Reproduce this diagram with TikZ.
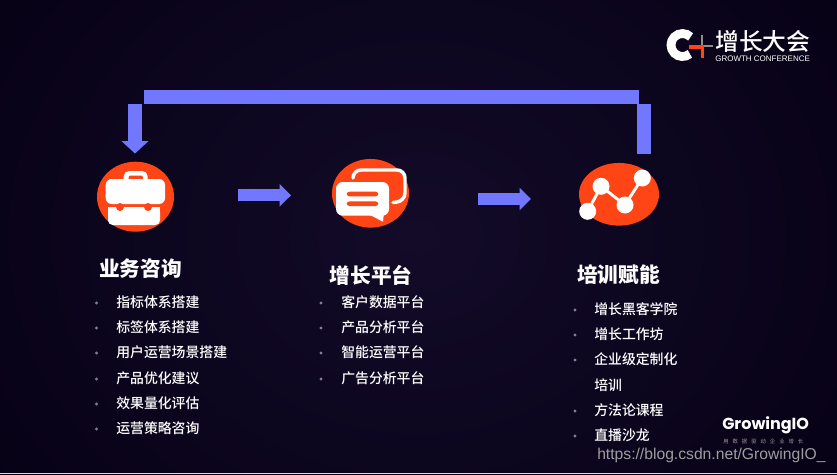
\documentclass[tikz,border=0pt]{standalone}
\usepackage{fontspec}
\setmainfont{Noto Sans CJK SC}
\newfontfamily\entryfont{Noto Sans CJK SC Medium}
\newfontfamily\latinsans{Liberation Sans}
\newfontfamily\logofont{Poppins}
\usetikzlibrary{arrows.meta,shapes.geometric}
\definecolor{flowblue}{HTML}{7177FF}
\definecolor{iconred}{HTML}{FF4516}
\definecolor{bgedge}{HTML}{070116}
\definecolor{bgmid}{HTML}{130B28}
\definecolor{dotgray}{HTML}{80809A}
\tikzset{
  icon/.style={ellipse,fill=iconred,inner sep=0pt,outer sep=0pt},
  flow/.style={draw=flowblue,line width=9pt},
  flowtip/.style={flow,-{Triangle[length=8.6pt,width=16.5pt]}},
  heading/.style={anchor=west,inner sep=0pt,text=white,font=\fontsize{15.5pt}{18pt}\selectfont\bfseries},
  entry/.style={anchor=west,inner sep=0pt,text=white,font=\entryfont\fontsize{10.4pt}{12pt}\selectfont},
  bullet/.style={circle,fill=dotgray,inner sep=0pt,minimum size=2.4pt},
}
\begin{document}
\begin{tikzpicture}[x=0.75pt,y=-0.75pt]
\useasboundingbox (0,0) rectangle (837,474);
\shade[inner color=bgmid,outer color=bgedge] (-100,-200) rectangle (937,674);
\fill[black!15] (0,473) rectangle (837,474);

% icons
\node[icon,minimum width=57.75pt,minimum height=52.5pt] (consult) at (135.5,196.7) {};
\node[icon,minimum width=57.75pt,minimum height=51.5pt] (platform) at (370.5,193.3) {};
\node[icon,minimum width=60pt,minimum height=47pt] (train) at (619,194.3) {};

% briefcase
\fill[white,rounded corners=4pt] (123.7,171) rectangle (147.7,184);
\fill[iconred,rounded corners=1.5pt] (128.5,175.5) rectangle (143,181);
\fill[white,rounded corners=4.5pt] (105.7,179) rectangle (165,204);
\fill[white,rounded corners=3.5pt] (108,207) rectangle (160,225);
\fill[white] (108,207) rectangle (160,212);
\fill[iconred] (120,207) circle[radius=4];
\fill[iconred] (148,207) circle[radius=4];

% speech bubbles
\draw[white,line width=2.6pt,line cap=round,rounded corners=6pt]
  (353,178) -- (353,170) -- (405,170) -- (405,201) -- (393,202.5);
\fill[white,rounded corners=5pt] (336,182) rectangle (389,215.7);
\fill[white] (368,214) -- (383,221.7) -- (384,212) -- cycle;
\fill[iconred,rounded corners=2pt] (346.7,191.7) rectangle (378.3,196.3);
\fill[iconred,rounded corners=2pt] (346.7,201.4) rectangle (378.3,206);

% line chart
\coordinate (p1) at (587.7,211.3);
\coordinate (p2) at (601,186.3);
\coordinate (p3) at (625,205);
\coordinate (p4) at (642.3,178);
\draw[white,line width=2.2pt] (p1) -- (p2) -- (p3) -- (p4);
\foreach \p in {p1,p2,p3,p4} \fill[white] (\p) circle[radius=8.5];

% connectors
\coordinate (topstart) at (644,154);
\coordinate (topbend) at (644,104);
\coordinate (barright) at (639,97.3);
\coordinate (barleft) at (144,97.3);
\coordinate (downstart) at (135,104);
\coordinate (downend) at (135,153.5);
\draw[flow,line width=10pt] (topstart) -- (topbend);
\draw[flow,line width=10.8pt] (barright) -- (barleft);
\draw[flowtip,line width=10pt,-{Triangle[length=9.2pt,width=19.5pt]}] (downstart) -- (downend);
\coordinate (a1s) at (237.7,195.3);
\coordinate (a1e) at (291,195.3);
\coordinate (a2s) at (478,199);
\coordinate (a2e) at (531,199);
\draw[flowtip] (a1s) -- (a1e);
\draw[flowtip] (a2s) -- (a2e);

% headings
\node[heading] (h1) at (99,269) {业务咨询};
\node[heading] (h2) at (329.5,275) {增长平台};
\node[heading] (h3) at (577,275) {培训赋能};

% left list
\foreach \t/\y [count=\i] in {指标体系搭建/302,标签体系搭建/327,用户运营场景搭建/352,产品优化建议/378,效果量化评估/403,运营策略咨询/428}{
  \node[entry] (l\i) at (116,\y) {\t};
  \node[bullet] (lb\i) at (96.5,\y+1) {};
}
% middle list
\foreach \t/\y [count=\i] in {客户数据平台/302,产品分析平台/327,智能运营平台/352,广告分析平台/378}{
  \node[entry] (m\i) at (341,\y) {\t};
  \node[bullet] (mb\i) at (321,\y+1) {};
}
% right list
\foreach \t/\y [count=\i] in {增长黑客学院/309,增长工作坊/334,企业级定制化/359,方法论课程/410,直播沙龙/435}{
  \node[entry] (r\i) at (594,\y) {\t};
  \node[bullet] (rb\i) at (575,\y+1) {};
}
\node[entry] (r3b) at (594,385) {培训};

% conference logo
\draw[white,line width=6.6pt] (690.6,36.9) arc[start angle=-45,end angle=-310,radius=11.5];
\draw[black!45,line width=0.9pt] (702,35) -- (702,46);
\draw[black!45,line width=0.9pt] (702,46) -- (713,46);
\fill[iconred] (689,45.5) rectangle (704,49);
\fill[iconred] (700.5,45.5) rectangle (704,58);
\node[anchor=west,inner sep=0pt,text=white,font=\entryfont\fontsize{17.8pt}{20pt}\selectfont] (conf) at (715,41) {增长大会};
\node[anchor=west,inner sep=0pt,text=white,font=\latinsans\fontsize{6pt}{7pt}\selectfont] (confen) at (715,59) {GROWTH CONFERENCE};

% GrowingIO logo
\node[anchor=west,inner sep=0pt,text=white,font=\logofont\bfseries\fontsize{12pt}{16pt}\selectfont] (gio) at (722,425) {GrowingIO};
\node[anchor=west,inner sep=0pt,text=black!40,font=\fontsize{4pt}{5pt}\selectfont\addfontfeature{LetterSpace=75}] (giosub) at (723,441) {用数据驱动企业增长};

% watermark
\node[anchor=west,inner sep=0pt,text=black!38,font=\latinsans\fontsize{11.76pt}{13pt}\selectfont] (mark) at (597,455) {https://blog.csdn.net/GrowingIO\_};
\end{tikzpicture}
\end{document}
